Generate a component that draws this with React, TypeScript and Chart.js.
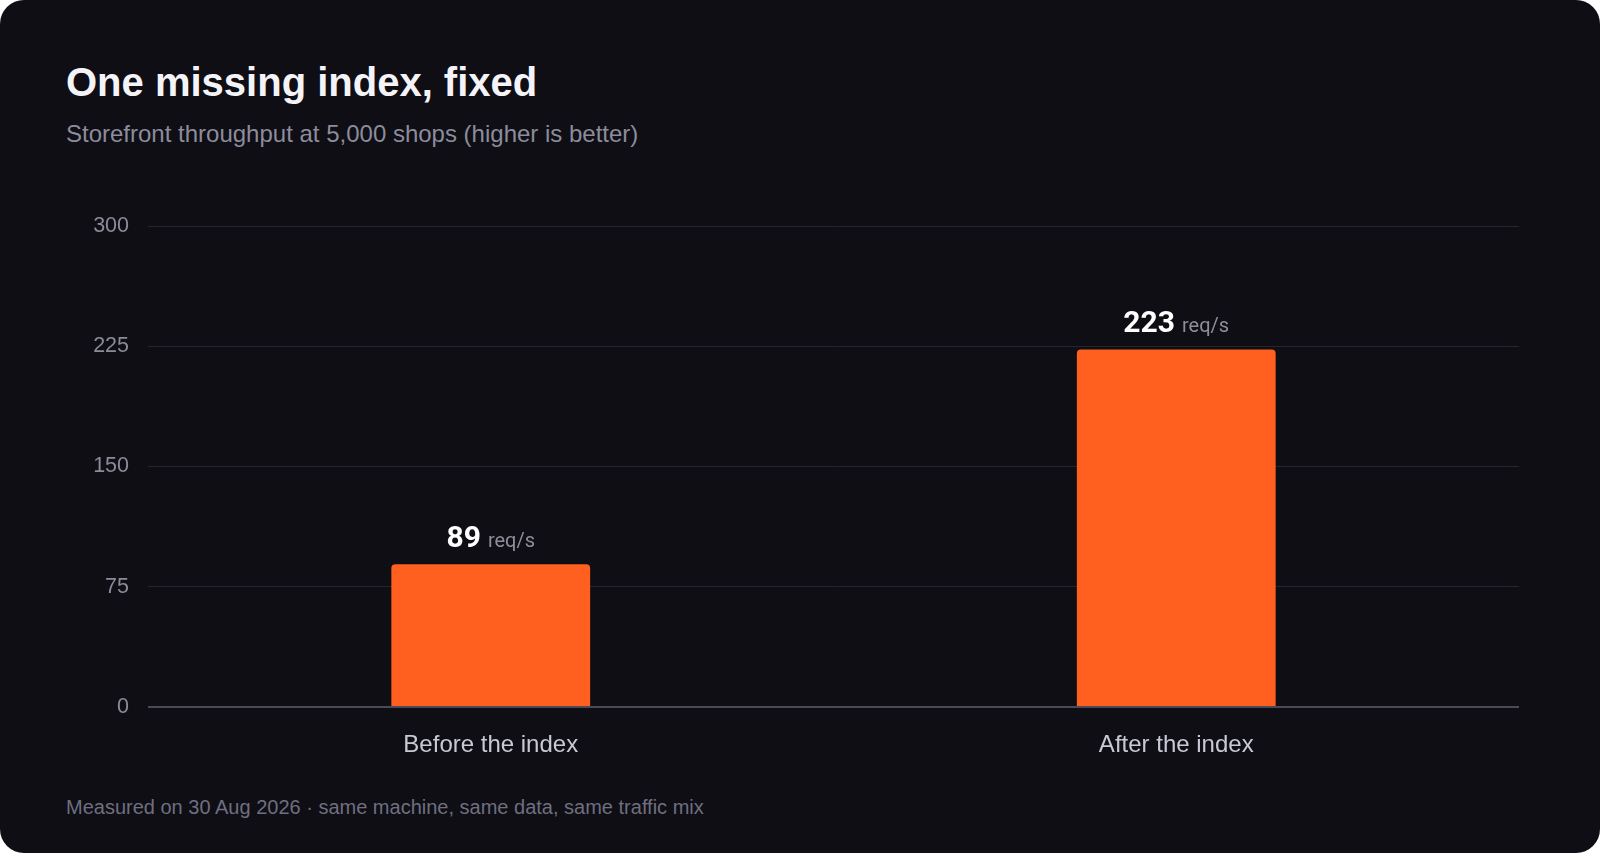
import { useEffect, useRef } from "react";
import { Chart, registerables } from "chart.js";

Chart.register(...registerables);

const categories = ["Before the index", "After the index"];
const throughput = [89, 223];
const unit = "req/s";
const yTicks = [0, 75, 150, 225, 300];

const BG = "#0e0e14";
const ORANGE = "#ff5f1f";
const SANS = "'Liberation Sans', Arial, sans-serif";

const valueLabels = {
  id: "valueLabels",
  afterDatasetsDraw(chart: Chart) {
    const { ctx } = chart;
    const meta = chart.getDatasetMeta(0);
    meta.data.forEach((bar: any, i: number) => {
      const num = String(throughput[i]);
      ctx.save();
      ctx.textBaseline = "alphabetic";
      ctx.font = "bold 30px Roboto, sans-serif";
      const w1 = ctx.measureText(num).width;
      ctx.font = "20px Roboto, sans-serif";
      const w2 = ctx.measureText(unit).width;
      const gap = 7;
      const x0 = bar.x - (w1 + gap + w2) / 2;
      const y = bar.y - 17;
      ctx.textAlign = "left";
      ctx.font = "bold 30px Roboto, sans-serif";
      ctx.fillStyle = "#ffffff";
      ctx.fillText(num, x0, y);
      ctx.font = "20px Roboto, sans-serif";
      ctx.fillStyle = "#8d8d9c";
      ctx.fillText(unit, x0 + w1 + gap, y);
      ctx.restore();
    });
  },
};

export default function App() {
  const canvasRef = useRef<HTMLCanvasElement>(null);

  useEffect(() => {
    if (!canvasRef.current) return;
    const chart = new Chart(canvasRef.current, {
      type: "bar",
      data: {
        labels: categories,
        datasets: [
          {
            data: throughput,
            backgroundColor: ORANGE,
            borderWidth: 0,
            borderRadius: 4,
            categoryPercentage: 1,
            barPercentage: 0.29,
          },
        ],
      },
      options: {
        responsive: false,
        animation: false,
        layout: { padding: { top: 35, right: 21, left: 0, bottom: 0 } },
        plugins: {
          legend: { display: false },
          tooltip: { enabled: false },
        },
        scales: {
          x: {
            grid: { display: false, drawTicks: false },
            border: { display: false },
            ticks: {
              color: "#c9c9d6",
              font: { family: SANS, size: 24 },
              padding: 24,
            },
            afterFit: (s: any) => {
              s.height = 64;
            },
          },
          y: {
            min: 0,
            max: 300,
            afterBuildTicks: (s: any) => {
              s.ticks = yTicks.map((v) => ({ value: v }));
            },
            grid: {
              drawTicks: false,
              color: (c: any) => (c.tick && c.tick.value === 0 ? "#4a4a56" : "#25252e"),
              lineWidth: (c: any) => (c.tick && c.tick.value === 0 ? 2 : 1),
            },
            border: { display: false },
            ticks: {
              color: "#8b8b99",
              font: { family: SANS, size: 21.5 },
              padding: 19,
            },
            afterFit: (s: any) => {
              s.width = 88;
            },
          },
        },
      },
      plugins: [valueLabels],
    });
    return () => chart.destroy();
  }, []);

  return (
    <div
      style={{
        position: "relative",
        width: 1600,
        height: 853,
        background: BG,
        borderRadius: 24,
        overflow: "hidden",
        fontFamily: SANS,
      }}
    >
      <style>{"body{margin:0;background:#ffffff}"}</style>
      <div
        style={{
          position: "absolute",
          left: 66,
          top: 62,
          fontSize: 40,
          lineHeight: "40px",
          fontWeight: 700,
          color: "#f4f4f8",
          whiteSpace: "nowrap",
        }}
      >
        One missing index, fixed
      </div>
      <div
        style={{
          position: "absolute",
          left: 66,
          top: 122,
          fontSize: 24,
          lineHeight: "24px",
          color: "#8c8c9c",
          whiteSpace: "nowrap",
        }}
      >
        Storefront throughput at 5,000 shops (higher is better)
      </div>
      <canvas
        ref={canvasRef}
        width={1480}
        height={580}
        style={{ position: "absolute", left: 60, top: 191, width: 1480, height: 580 }}
      />
      <div
        style={{
          position: "absolute",
          left: 66,
          top: 797,
          fontSize: 20,
          lineHeight: "20px",
          color: "#6f6f80",
          whiteSpace: "nowrap",
        }}
      >
        Measured on 30 Aug 2026 · same machine, same data, same traffic mix
      </div>
    </div>
  );
}
